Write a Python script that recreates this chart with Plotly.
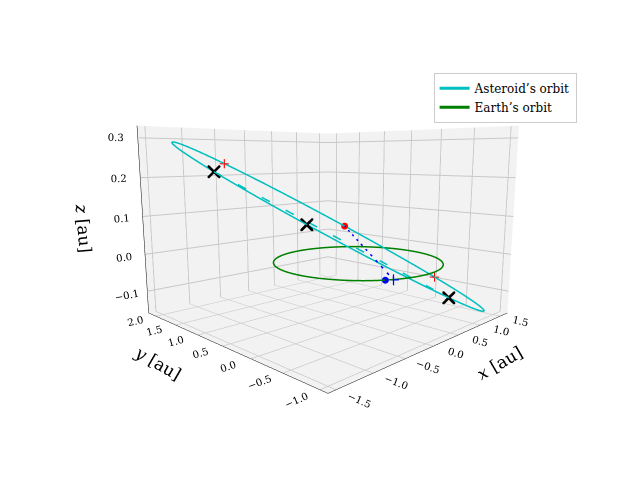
import numpy as np
import plotly.graph_objects as go

# asteroid orbit: centre, semi-major and semi-minor vectors [au]
ast_center = [0.1, 0.55, 0.07]
ast_major = [-1.35, 1.45, 0.22]
ast_minor = [0.28, 0.26, 0.013]
# Earth orbit radius [au]
earth_radius = 1.0

# marker positions along orbits (eccentric anomaly, deg)
black_x_angles = [315, 278, 222]
red_plus_angles = [45, 134]
red_dot_angle = 95
earth_dot_angle = 238
blue_plus_angle = 243
dash_from, dash_to = 315, 222

x_ticks = [-1.5, -1.0, -0.5, 0.0, 0.5, 1.0, 1.5]
y_ticks = [-1.0, -0.5, 0.0, 0.5, 1.0, 1.5, 2.0]
z_ticks = [-0.1, 0.0, 0.1, 0.2, 0.3]


def ast_point(deg):
    t = np.radians(np.asarray(deg, dtype=float))
    c, u, v = np.array(ast_center), np.array(ast_major), np.array(ast_minor)
    return (c[:, None] + u[:, None] * np.cos(t) + v[:, None] * np.sin(t))


def earth_point(deg):
    t = np.radians(np.asarray(deg, dtype=float))
    return np.vstack([earth_radius * np.cos(t), earth_radius * np.sin(t), 0 * t])


def fmt(vals):
    return [f"{v:.1f}".replace("-", "−") for v in vals]


theta = np.linspace(0, 360, 361)
ast = ast_point(theta)
earth = earth_point(theta)

fig = go.Figure()
fig.add_trace(go.Scatter3d(x=ast[0], y=ast[1], z=ast[2], mode="lines",
                           line=dict(color="#00bfbf", width=3), name="Asteroid’s orbit"))
fig.add_trace(go.Scatter3d(x=earth[0], y=earth[1], z=earth[2], mode="lines",
                           line=dict(color="green", width=3), name="Earth’s orbit"))

d = ast_point([dash_from, dash_to])
fig.add_trace(go.Scatter3d(x=d[0], y=d[1], z=d[2], mode="lines", showlegend=False,
                           line=dict(color="#00bfbf", width=3, dash="longdash")))
rd = ast_point([red_dot_angle])
bp = earth_point([blue_plus_angle])
fig.add_trace(go.Scatter3d(x=[rd[0, 0], bp[0, 0]], y=[rd[1, 0], bp[1, 0]], z=[rd[2, 0], bp[2, 0]],
                           mode="lines", showlegend=False,
                           line=dict(color="blue", width=3, dash="longdash")))

bx = ast_point(black_x_angles)
fig.add_trace(go.Scatter3d(x=bx[0], y=bx[1], z=bx[2], mode="markers", showlegend=False,
                           marker=dict(symbol="x", size=3, color="black")))
rp = ast_point(red_plus_angles)
fig.add_trace(go.Scatter3d(x=rp[0], y=rp[1], z=rp[2], mode="markers", showlegend=False,
                           marker=dict(symbol="cross", size=5, color="red")))
fig.add_trace(go.Scatter3d(x=rd[0], y=rd[1], z=rd[2], mode="markers", showlegend=False,
                           marker=dict(symbol="circle", size=4, color="red")))
ed = earth_point([earth_dot_angle])
fig.add_trace(go.Scatter3d(x=ed[0], y=ed[1], z=ed[2], mode="markers", showlegend=False,
                           marker=dict(symbol="circle", size=4, color="blue")))
fig.add_trace(go.Scatter3d(x=bp[0], y=bp[1], z=bp[2], mode="markers", showlegend=False,
                           marker=dict(symbol="cross", size=6, color="blue")))

axis_style = dict(backgroundcolor="#f2f2f2", gridcolor="#c8c8c8", showbackground=True,
                  zeroline=False, tickfont=dict(size=11, family="DejaVu Serif"),
                  showspikes=False, linecolor="black", showline=True)
fig.update_layout(
    width=640, height=480,
    paper_bgcolor="white",
    font=dict(family="DejaVu Serif", color="black"),
    margin=dict(l=0, r=0, t=0, b=0),
    legend=dict(x=0.665, y=0.865, bordercolor="#cccccc", borderwidth=1,
                font=dict(size=12), bgcolor="white"),
    scene=dict(
        xaxis=dict(title=dict(text="<i>x</i> [au]", font=dict(size=17)), range=[-1.6, 1.7],
                   tickvals=x_ticks, ticktext=fmt(x_ticks), **axis_style),
        yaxis=dict(title=dict(text="<i>y</i> [au]", font=dict(size=17)), range=[-1.1, 2.2],
                   tickvals=y_ticks, ticktext=fmt(y_ticks), **axis_style),
        zaxis=dict(title=dict(text="<i>z</i> [au]", font=dict(size=17)), range=[-0.16, 0.33],
                   tickvals=z_ticks, ticktext=fmt(z_ticks), **axis_style),
        aspectmode="manual", aspectratio=dict(x=1, y=1, z=0.72),
        camera=dict(eye=dict(x=-1.4, y=-1.4, z=0.25), center=dict(x=0, y=0, z=-0.1)),
        domain=dict(x=[0.05, 0.95], y=[0.05, 0.95]),
    ),
)

fig.write_html("out.html")
